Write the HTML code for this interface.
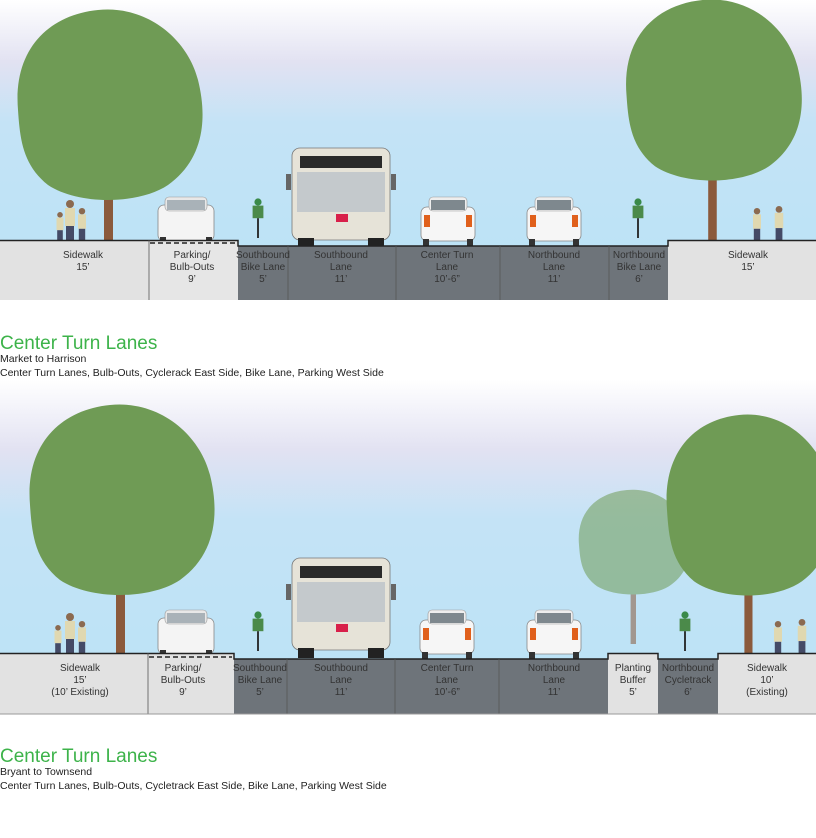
<!DOCTYPE html>
<html><head><meta charset="utf-8"><style>
html,body{margin:0;padding:0;background:#fff;}
svg{display:block}
text{font-family:"Liberation Sans",sans-serif;}
.lb{font-family:"Liberation Sans Narrow","Liberation Sans",sans-serif;font-size:10px;fill:#333;text-anchor:middle}
</style></head><body>
<svg width="816" height="838" viewBox="0 0 816 838" xmlns="http://www.w3.org/2000/svg">
<defs>
<linearGradient id="sky1" x1="0" y1="0" x2="0" y2="1">
<stop offset="0" stop-color="#ffffff"/><stop offset="0.25" stop-color="#e2e2f2"/><stop offset="0.5" stop-color="#c4e3f6"/><stop offset="1" stop-color="#bde3f6"/></linearGradient>
<g id="tree"><rect x="-4" y="60" width="9" height="120" fill="#8b5a3c"/>
<path d="M-90,0 C-95,-60 -60,-95 -10,-100 C40,-105 80,-70 90,-30 C100,10 95,50 60,75 C30,95 -30,95 -60,75 C-85,55 -88,30 -90,0Z" fill="#6f9b55"/></g>
<g id="car"><rect x="0" y="8" width="56" height="36" rx="6" fill="#f4f4f4" stroke="#888" stroke-width="0.8"/><rect x="7" y="0" width="42" height="14" rx="4" fill="#e8e8e8" stroke="#999" stroke-width="0.6"/><rect x="9" y="3" width="38" height="10" fill="#a9b2b8"/><rect x="2" y="40" width="6" height="6" fill="#333"/><rect x="48" y="40" width="6" height="6" fill="#333"/></g>
<g id="rcar"><rect x="0" y="10" width="54" height="34" rx="6" fill="#f6f6f6" stroke="#888" stroke-width="0.8"/><rect x="8" y="0" width="38" height="14" rx="4" fill="#eee" stroke="#999" stroke-width="0.6"/><rect x="10" y="3" width="34" height="10" fill="#7e888e"/><path d="M3,18 l6,0 l0,12 l-6,0z M45,18 l6,0 l0,12 l-6,0z" fill="#e0601c"/><rect x="2" y="42" width="6" height="7" fill="#333"/><rect x="46" y="42" width="6" height="7" fill="#333"/></g>
<g id="bus"><rect x="0" y="0" width="98" height="92" rx="8" fill="#e6e3d8" stroke="#777" stroke-width="0.8"/><rect x="8" y="8" width="82" height="12" fill="#2a2a2a"/><rect x="5" y="24" width="88" height="40" fill="#c4c9cc"/><rect x="44" y="66" width="12" height="8" fill="#d8204a"/><rect x="6" y="90" width="16" height="10" fill="#222"/><rect x="76" y="90" width="16" height="10" fill="#222"/><rect x="-6" y="26" width="5" height="16" fill="#666"/><rect x="99" y="26" width="5" height="16" fill="#666"/></g>
<g id="ped"><circle cx="0" cy="-36" r="4" fill="#8b6a50"/><rect x="-5" y="-32" width="10" height="18" fill="#e0d8b0"/><rect x="-4" y="-14" width="8" height="14" fill="#444a66"/></g>
<g id="bike"><circle cx="0" cy="-40" r="4" fill="#3a8a4a"/><rect x="-6" y="-36" width="12" height="14" fill="#4b8a4a"/><rect x="-1" y="-22" width="2" height="22" fill="#222"/></g>
</defs>

<!-- PANEL 1 -->
<rect x="0" y="0" width="816" height="246" fill="url(#sky1)"/>
<use href="#tree" transform="translate(108,110)"/>
<use href="#tree" transform="translate(712,95) scale(0.95,0.95)"/>
<use href="#ped" transform="translate(60,240) scale(0.7)"/>
<use href="#ped" transform="translate(70,240)"/>
<use href="#ped" transform="translate(82,240) scale(0.8)"/>
<use href="#ped" transform="translate(757,240) scale(0.8)"/>
<use href="#ped" transform="translate(779,240) scale(0.85)"/>
<use href="#car" transform="translate(158,197)"/>
<use href="#bike" transform="translate(258,238) scale(0.9)"/>
<use href="#bus" transform="translate(292,148)"/>
<use href="#rcar" transform="translate(421,197)"/>
<use href="#rcar" transform="translate(527,197)"/>
<use href="#bike" transform="translate(638,238) scale(0.9)"/>
<rect x="0" y="240" width="238" height="60" fill="#e2e2e2"/>
<rect x="668" y="240" width="148" height="60" fill="#e2e2e2"/>
<rect x="149" y="240" width="89" height="60" fill="#e6e6e6"/>
<rect x="238" y="246" width="430" height="54" fill="#6e747a"/>
<path d="M0,240.5 H238 V246 H668 V240.5 H816" fill="none" stroke="#222" stroke-width="1.5"/>
<line x1="150" y1="243" x2="236" y2="243" stroke="#222" stroke-width="1.5" stroke-dasharray="5,3"/>
<g stroke="#555" stroke-width="0.8"><line x1="149" y1="240" x2="149" y2="300"/><line x1="288" y1="246" x2="288" y2="300"/><line x1="396" y1="246" x2="396" y2="300"/><line x1="500" y1="246" x2="500" y2="300"/><line x1="609" y1="246" x2="609" y2="300"/></g>
<g class="lb">
<text x="83" y="258">Sidewalk</text><text x="83" y="270">15’</text>
<text x="192" y="258">Parking/</text><text x="192" y="270">Bulb-Outs</text><text x="192" y="282">9’</text>
<text x="263" y="258">Southbound</text><text x="263" y="270">Bike Lane</text><text x="263" y="282">5’</text>
<text x="341" y="258">Southbound</text><text x="341" y="270">Lane</text><text x="341" y="282">11’</text>
<text x="447" y="258">Center Turn</text><text x="447" y="270">Lane</text><text x="447" y="282">10’-6”</text>
<text x="554" y="258">Northbound</text><text x="554" y="270">Lane</text><text x="554" y="282">11’</text>
<text x="639" y="258">Northbound</text><text x="639" y="270">Bike Lane</text><text x="639" y="282">6’</text>
<text x="748" y="258">Sidewalk</text><text x="748" y="270">15’</text>
</g>
<text x="0" y="349" font-size="19" fill="#3db34a">Center Turn Lanes</text>
<text x="0" y="362" font-size="10.5" fill="#222">Market to Harrison</text>
<text x="0" y="376" font-size="10.5" fill="#222">Center Turn Lanes, Bulb-Outs, Cyclerack East Side, Bike Lane, Parking West Side</text>

<!-- PANEL 2 -->
<rect x="0" y="380" width="816" height="279" fill="url(#sky1)"/>
<use href="#tree" transform="translate(120,505)"/>
<g opacity="0.55"><use href="#tree" transform="translate(633,545) scale(0.6,0.55)"/></g>
<use href="#tree" transform="translate(748,510) scale(0.9,0.95)"/>
<use href="#ped" transform="translate(58,653) scale(0.7)"/>
<use href="#ped" transform="translate(70,653)"/>
<use href="#ped" transform="translate(82,653) scale(0.8)"/>
<use href="#ped" transform="translate(778,653) scale(0.8)"/>
<use href="#ped" transform="translate(802,653) scale(0.85)"/>
<use href="#car" transform="translate(158,610)"/>
<use href="#bike" transform="translate(258,651) scale(0.9)"/>
<use href="#bus" transform="translate(292,558)"/>
<use href="#rcar" transform="translate(420,610)"/>
<use href="#rcar" transform="translate(527,610)"/>
<use href="#bike" transform="translate(685,651) scale(0.9)"/>
<rect x="0" y="653" width="234" height="61" fill="#e2e2e2"/>
<rect x="608" y="653" width="50" height="61" fill="#e2e2e2"/>
<rect x="718" y="653" width="98" height="61" fill="#e2e2e2"/>
<rect x="234" y="659" width="374" height="55" fill="#6e747a"/>
<rect x="658" y="659" width="60" height="55" fill="#6e747a"/>
<path d="M0,653.5 H234 V659 H608 V653.5 H658 V659 H718 V653.5 H816" fill="none" stroke="#222" stroke-width="1.5"/>
<line x1="149" y1="657" x2="232" y2="657" stroke="#222" stroke-width="1.5" stroke-dasharray="5,3"/>
<g stroke="#555" stroke-width="0.8"><line x1="148" y1="653" x2="148" y2="714"/><line x1="287" y1="659" x2="287" y2="714"/><line x1="395" y1="659" x2="395" y2="714"/><line x1="499" y1="659" x2="499" y2="714"/></g>
<line x1="0" y1="714" x2="816" y2="714" stroke="#999" stroke-width="1"/>
<g class="lb">
<text x="80" y="671">Sidewalk</text><text x="80" y="683">15’</text><text x="80" y="695">(10’ Existing)</text>
<text x="183" y="671">Parking/</text><text x="183" y="683">Bulb-Outs</text><text x="183" y="695">9’</text>
<text x="260" y="671">Southbound</text><text x="260" y="683">Bike Lane</text><text x="260" y="695">5’</text>
<text x="341" y="671">Southbound</text><text x="341" y="683">Lane</text><text x="341" y="695">11’</text>
<text x="447" y="671">Center Turn</text><text x="447" y="683">Lane</text><text x="447" y="695">10’-6”</text>
<text x="554" y="671">Northbound</text><text x="554" y="683">Lane</text><text x="554" y="695">11’</text>
<text x="633" y="671">Planting</text><text x="633" y="683">Buffer</text><text x="633" y="695">5’</text>
<text x="688" y="671">Northbound</text><text x="688" y="683">Cycletrack</text><text x="688" y="695">6’</text>
<text x="767" y="671">Sidewalk</text><text x="767" y="683">10’</text><text x="767" y="695">(Existing)</text>
</g>
<text x="0" y="762" font-size="19" fill="#3db34a">Center Turn Lanes</text>
<text x="0" y="775" font-size="10.5" fill="#222">Bryant to Townsend</text>
<text x="0" y="789" font-size="10.5" fill="#222">Center Turn Lanes, Bulb-Outs, Cycletrack East Side, Bike Lane, Parking West Side</text>
</svg>
</body></html>
